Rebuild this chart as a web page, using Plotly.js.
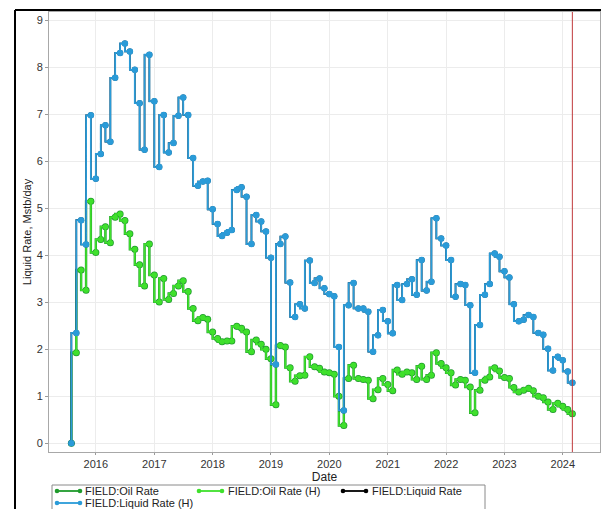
<!DOCTYPE html>
<html>
<head>
<meta charset="utf-8">
<script src="https://cdn.plot.ly/plotly-3.0.1.min.js"></script>
<style>
  html, body { margin: 0; padding: 0; background: #ffffff; }
  #chart { width: 601px; height: 509px; }
</style>
</head>
<body>
<div id="chart"></div>
<script>
// Monthly report dates (first of month)
const dates = [
  '2015-08','2015-09','2015-10','2015-11','2015-12',
  '2016-01','2016-02','2016-03','2016-04','2016-05','2016-06','2016-07','2016-08','2016-09','2016-10','2016-11','2016-12',
  '2017-01','2017-02','2017-03','2017-04','2017-05','2017-06','2017-07','2017-08','2017-09','2017-10','2017-11','2017-12',
  '2018-01','2018-02','2018-03','2018-04','2018-05','2018-06','2018-07','2018-08','2018-09','2018-10','2018-11','2018-12',
  '2019-01','2019-02','2019-03','2019-04','2019-05','2019-06','2019-07','2019-08','2019-09','2019-10','2019-11','2019-12',
  '2020-01','2020-02','2020-03','2020-04','2020-05','2020-06','2020-07','2020-08','2020-09','2020-10','2020-11','2020-12',
  '2021-01','2021-02','2021-03','2021-04','2021-05','2021-06','2021-07','2021-08','2021-09','2021-10','2021-11','2021-12',
  '2022-01','2022-02','2022-03','2022-04','2022-05','2022-06','2022-07','2022-08','2022-09','2022-10','2022-11','2022-12',
  '2023-01','2023-02','2023-03','2023-04','2023-05','2023-06','2023-07','2023-08','2023-09','2023-10','2023-11','2023-12',
  '2024-01','2024-02','2024-03'
];

// FIELD:Liquid Rate (H), Mstb/day
const liquidRateHist = [
  0.00, 2.35, 4.75, 4.23, 6.98,
  5.63, 6.16, 6.77, 6.42, 7.78, 8.31, 8.51, 8.34, 7.95, 7.24, 6.25, 8.27,
  7.28, 5.88, 6.99, 6.19, 6.39, 6.97, 7.36, 6.99, 6.07, 5.48, 5.57, 5.59,
  4.98, 4.67, 4.41, 4.48, 4.54, 5.39, 5.45, 5.25, 4.24, 4.86, 4.72, 4.51,
  3.95, 1.68, 4.24, 4.40, 3.42, 2.69, 2.96, 2.87, 3.89, 3.41, 3.51, 3.30,
  3.18, 3.13, 2.05, 0.70, 2.94, 3.41, 2.87, 2.87, 2.80, 1.95, 2.30, 2.84,
  2.60, 2.34, 3.37, 3.05, 3.39, 3.49, 3.16, 3.90, 3.25, 3.44, 4.79, 4.36,
  4.21, 3.90, 3.12, 3.39, 3.37, 2.94, 1.50, 2.52, 3.16, 3.39, 4.04, 3.97,
  3.66, 3.53, 2.96, 2.60, 2.63, 2.73, 2.69, 2.35, 2.31, 2.01, 1.55, 1.84,
  1.77, 1.53, 1.29
];

// FIELD:Oil Rate (H), Mstb/day
const oilRateHist = [
  0.00, 1.93, 3.69, 3.26, 5.15,
  4.06, 4.34, 4.61, 4.27, 4.81, 4.88, 4.74, 4.46, 4.13, 3.80, 3.35, 4.24,
  3.58, 3.01, 3.51, 3.06, 3.19, 3.35, 3.46, 3.23, 2.87, 2.61, 2.68, 2.64,
  2.37, 2.23, 2.16, 2.18, 2.18, 2.49, 2.45, 2.37, 1.95, 2.20, 2.11, 2.00,
  1.80, 0.82, 2.08, 2.05, 1.61, 1.32, 1.44, 1.45, 1.84, 1.63, 1.60, 1.52,
  1.50, 1.47, 1.00, 0.38, 1.38, 1.66, 1.38, 1.36, 1.34, 0.95, 1.14, 1.38,
  1.25, 1.12, 1.56, 1.47, 1.52, 1.50, 1.36, 1.64, 1.36, 1.45, 1.93, 1.70,
  1.61, 1.50, 1.24, 1.36, 1.34, 1.20, 0.65, 1.13, 1.34, 1.41, 1.61, 1.54,
  1.40, 1.38, 1.19, 1.09, 1.13, 1.17, 1.12, 1.00, 0.97, 0.88, 0.72, 0.85,
  0.79, 0.72, 0.63
];

// Simulated series match history (drawn underneath)
const oilRateSim = oilRateHist;
const liquidRateSim = liquidRateHist;

const seriesNames = ['FIELD:Oil Rate', 'FIELD:Oil Rate (H)', 'FIELD:Liquid Rate', 'FIELD:Liquid Rate (H)'];
const seriesColors = ['#1f9a2c', '#3fe02c', '#000000', '#2a9bd8'];
const yearTicks = ['2016-01-01','2017-01-01','2018-01-01','2019-01-01','2020-01-01','2021-01-01','2022-01-01','2023-01-01','2024-01-01'];
const yearLabels = ['2016','2017','2018','2019','2020','2021','2022','2023','2024'];
const yTicks = [0,1,2,3,4,5,6,7,8,9];
const reportDate = '2024-03-01';

const FONT = 'Liberation Sans, Arial, sans-serif';

// plot area in pixels
const M = { l: 49, r: 1, t: 12, b: 57 };
const PW = 601 - M.l - M.r, PH = 509 - M.t - M.b;
const px = x => (x - M.l) / PW;
const py = y => (509 - M.b - y) / PH;

function stepTrace(name, y, color, msize, lw) {
  return {
    type: 'scatter', mode: 'lines+markers', name: name,
    x: dates, y: y, showlegend: false,
    line: { shape: 'vh', color: color, width: lw },
    marker: { symbol: 'circle', size: msize, color: color, line: { width: 0 } },
    hoverinfo: 'x+y+name'
  };
}

const traces = [
  stepTrace(seriesNames[0], oilRateSim, seriesColors[0], 7, 2.4),
  stepTrace(seriesNames[1], oilRateHist, seriesColors[1], 5.5, 1.6),
  stepTrace(seriesNames[2], liquidRateSim, seriesColors[2], 6, 1.6),
  stepTrace(seriesNames[3], liquidRateHist, seriesColors[3], 6.5, 1.8)
];

// Custom legend (box, line samples with end dots, labels)
const legendItems = [
  { row: 491, x0: 57,  x1: 80,  tx: 83 },
  { row: 491, x0: 199, x1: 222, tx: 226 },
  { row: 491, x0: 343, x1: 366, tx: 370 },
  { row: 503, x0: 57,  x1: 80,  tx: 83 }
];
const shapes = [
  { type: 'line', xref: 'x', yref: 'paper', x0: reportDate, x1: reportDate, y0: 0, y1: 1,
    line: { color: '#c0393b', width: 1 } },
  { type: 'line', xref: 'paper', yref: 'paper', x0: px(15), x1: px(15), y0: py(10), y1: py(530),
    line: { color: '#000000', width: 2 } },
  { type: 'line', xref: 'paper', yref: 'paper', x0: px(15), x1: px(610), y0: py(10), y1: py(10),
    line: { color: '#000000', width: 2 } },
  { type: 'rect', xref: 'paper', yref: 'paper', x0: px(52), x1: px(485), y0: py(485), y1: py(520),
    line: { color: '#8a8a8a', width: 1 }, fillcolor: '#ffffff' }
];
const annotations = [];
legendItems.forEach((it, i) => {
  const c = seriesColors[i];
  shapes.push({ type: 'line', xref: 'paper', yref: 'paper', x0: px(it.x0), x1: px(it.x1), y0: py(it.row), y1: py(it.row),
    line: { color: c, width: 1.8 } });
  [it.x0, it.x1].forEach(cx => {
    shapes.push({ type: 'circle', xref: 'paper', yref: 'paper',
      x0: px(cx - 2.3), x1: px(cx + 2.3), y0: py(it.row + 2.3), y1: py(it.row - 2.3),
      line: { width: 0 }, fillcolor: c });
  });
  annotations.push({ xref: 'paper', yref: 'paper', x: px(it.tx), y: py(it.row), xanchor: 'left', yanchor: 'middle',
    text: seriesNames[i], showarrow: false, font: { family: FONT, size: 11, color: '#222' } });
});

const layout = {
  width: 601, height: 509,
  margin: { l: M.l, r: M.r, t: M.t, b: M.b, autoexpand: false },
  paper_bgcolor: '#ffffff', plot_bgcolor: '#ffffff',
  font: { family: FONT, size: 11, color: '#333' },
  showlegend: false,
  xaxis: {
    type: 'date',
    range: ['2015-03-14', '2024-08-21'],
    tickmode: 'array', tickvals: yearTicks, ticktext: yearLabels,
    tickfont: { family: FONT, size: 11, color: '#333' },
    ticks: 'outside', ticklen: 2, tickcolor: '#999',
    showgrid: true, gridcolor: '#ececec', gridwidth: 1,
    showline: true, linecolor: '#a8a8a8', linewidth: 1, mirror: true,
    zeroline: false,
    title: { text: 'Date', font: { family: FONT, size: 12, color: '#222' }, standoff: 2 }
  },
  yaxis: {
    range: [-0.185, 9.18],
    tickmode: 'array', tickvals: yTicks,
    tickfont: { family: FONT, size: 11, color: '#333' },
    ticks: 'outside', ticklen: 3, tickcolor: '#999',
    showgrid: true, gridcolor: '#ececec', gridwidth: 1,
    showline: true, linecolor: '#a8a8a8', linewidth: 1, mirror: true,
    zeroline: false,
    title: { text: 'Liquid Rate, Mstb/day', font: { family: FONT, size: 11, color: '#222' }, standoff: 2 }
  },
  shapes: shapes,
  annotations: annotations
};

Plotly.newPlot('chart', traces, layout, { displayModeBar: false, staticPlot: true });
</script>
</body>
</html>
